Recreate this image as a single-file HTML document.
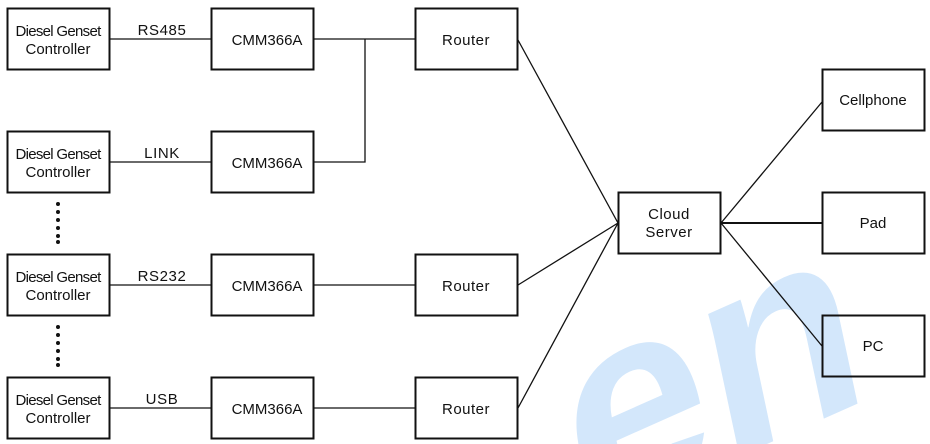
<!DOCTYPE html>
<html><head><meta charset="utf-8"><style>
html,body{margin:0;padding:0;background:#fff;width:930px;height:444px;overflow:hidden;}
svg{display:block;overflow:hidden;}
text{font-family:"Liberation Sans",sans-serif;fill:#111;}
</style></head><body>
<svg width="930" height="444" viewBox="0 0 930 444" xmlns="http://www.w3.org/2000/svg">
<defs><clipPath id="c"><rect x="0" y="0" width="930" height="444"/></clipPath></defs>
<g clip-path="url(#c)">
<g transform="translate(585,525) rotate(-24) skewX(-12)">
<text x="0" y="0" font-size="270" font-weight="bold" style="fill:#d3e7fb" font-family="Liberation Sans">en</text>
</g>
</g>
<g fill="none" stroke="#111" stroke-width="1.3">
<rect x="7.5" y="8.5" width="102" height="61" stroke-width="2"/>
<rect x="7.5" y="131.5" width="102" height="61" stroke-width="2"/>
<rect x="7.5" y="254.5" width="102" height="61" stroke-width="2"/>
<rect x="7.5" y="377.5" width="102" height="61" stroke-width="2"/>
<rect x="211.5" y="8.5" width="102" height="61" stroke-width="2"/>
<rect x="211.5" y="131.5" width="102" height="61" stroke-width="2"/>
<rect x="211.5" y="254.5" width="102" height="61" stroke-width="2"/>
<rect x="211.5" y="377.5" width="102" height="61" stroke-width="2"/>
<rect x="415.5" y="8.5" width="102" height="61" stroke-width="2"/>
<rect x="415.5" y="254.5" width="102" height="61" stroke-width="2"/>
<rect x="415.5" y="377.5" width="102" height="61" stroke-width="2"/>
<rect x="618.5" y="192.5" width="102" height="61" stroke-width="2"/>
<rect x="822.5" y="69.5" width="102" height="61" stroke-width="2"/>
<rect x="822.5" y="192.5" width="102" height="61" stroke-width="2"/>
<rect x="822.5" y="315.5" width="102" height="61" stroke-width="2"/>
<line x1="110" y1="39" x2="211" y2="39"/>
<line x1="110" y1="162" x2="211" y2="162"/>
<line x1="110" y1="285" x2="211" y2="285"/>
<line x1="110" y1="408" x2="211" y2="408"/>
<line x1="314" y1="39" x2="415" y2="39"/>
<polyline points="314,162 365,162 365,39"/>
<line x1="314" y1="285" x2="415" y2="285"/>
<line x1="314" y1="408" x2="415" y2="408"/>
<line x1="518" y1="40" x2="618" y2="223"/>
<line x1="518" y1="285" x2="618" y2="223"/>
<line x1="518" y1="408" x2="618" y2="223"/>
<line x1="721" y1="223" x2="822" y2="102"/>
<line x1="721" y1="223" x2="822" y2="223" stroke-width="2"/>
<line x1="721" y1="223" x2="822" y2="346"/>
</g>
<g fill="#111">
<circle cx="58" cy="204" r="2"/><circle cx="58" cy="212" r="2"/><circle cx="58" cy="220" r="2"/><circle cx="58" cy="228" r="2"/><circle cx="58" cy="236" r="2"/><circle cx="58" cy="242" r="2"/>
<circle cx="58" cy="327" r="2"/><circle cx="58" cy="335" r="2"/><circle cx="58" cy="343" r="2"/><circle cx="58" cy="351" r="2"/><circle cx="58" cy="359" r="2"/><circle cx="58" cy="365" r="2"/>
</g>
<g font-size="15" text-anchor="middle">
<text x="58" y="36" letter-spacing="-0.7">Diesel Genset</text><text x="58" y="54">Controller</text>
<text x="58" y="159" letter-spacing="-0.7">Diesel Genset</text><text x="58" y="177">Controller</text>
<text x="58" y="282" letter-spacing="-0.7">Diesel Genset</text><text x="58" y="300">Controller</text>
<text x="58" y="405" letter-spacing="-0.7">Diesel Genset</text><text x="58" y="423">Controller</text>
<text x="162" y="35" letter-spacing="0.6">RS485</text>
<text x="162" y="158" letter-spacing="0.6">LINK</text>
<text x="162" y="281" letter-spacing="0.6">RS232</text>
<text x="162" y="404" letter-spacing="0.6">USB</text>
<text x="267" y="45">CMM366A</text>
<text x="267" y="168">CMM366A</text>
<text x="267" y="291">CMM366A</text>
<text x="267" y="414">CMM366A</text>
<text x="466" y="45" letter-spacing="0.5">Router</text>
<text x="466" y="291" letter-spacing="0.5">Router</text>
<text x="466" y="414" letter-spacing="0.5">Router</text>
<text x="669" y="219" letter-spacing="0.5">Cloud</text>
<text x="669" y="237" letter-spacing="0.5">Server</text>
<text x="873" y="105">Cellphone</text>
<text x="873" y="228">Pad</text>
<text x="873" y="351">PC</text>
</g>
</svg>
</body></html>
